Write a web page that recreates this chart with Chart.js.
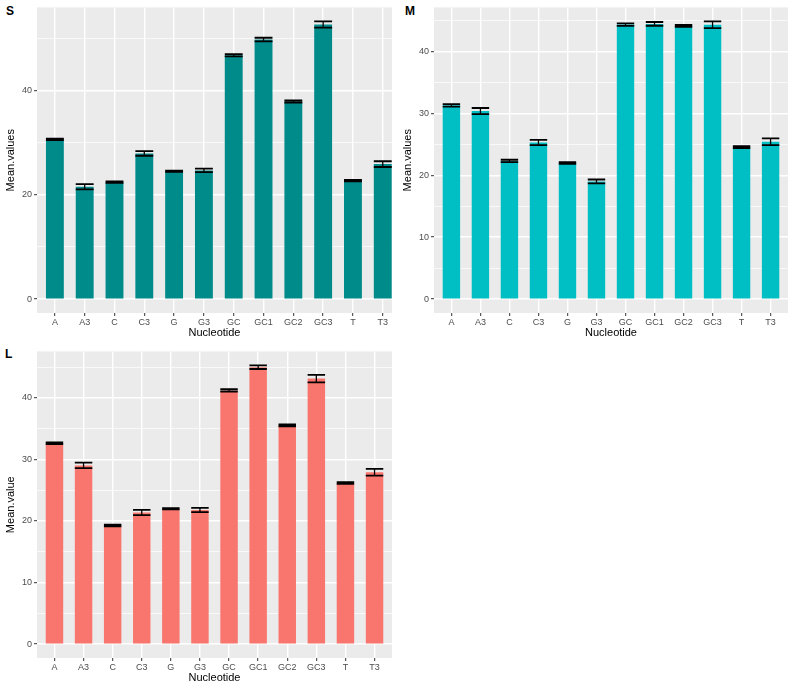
<!DOCTYPE html>
<html>
<head>
<meta charset="utf-8">
<script src="https://cdn.jsdelivr.net/npm/chart.js@4.4.1/dist/chart.umd.min.js"></script>
<style>
  html, body { margin: 0; padding: 0; background: #fff; }
  body { width: 795px; height: 689px; position: relative; overflow: hidden; font-family: "Liberation Sans", Arial, sans-serif; }
  canvas { position: absolute; }
  .tag { position: absolute; font-weight: bold; font-size: 12px; line-height: 1; color: #000; }
</style>
</head>
<body>
<div class="tag" style="left:6px; top:5px;">S</div>
<div class="tag" style="left:405px; top:5px;">M</div>
<div class="tag" style="left:5px; top:348px;">L</div>
<canvas id="chartS" width="393" height="340" style="left:0; top:0;"></canvas>
<canvas id="chartM" width="392" height="340" style="left:397px; top:0;"></canvas>
<canvas id="chartL" width="393" height="341" style="left:0; top:344px;"></canvas>
<script>
const categories = ['A', 'A3', 'C', 'C3', 'G', 'G3', 'GC', 'GC1', 'GC2', 'GC3', 'T', 'T3'];

// S panel
const sMeans = [30.6, 21.5, 22.4, 27.9, 24.5, 24.65, 46.7, 49.7, 37.85, 52.6, 22.7, 25.85];
const sErrors = [0.15, 0.5, 0.15, 0.45, 0.12, 0.35, 0.2, 0.35, 0.2, 0.6, 0.15, 0.55];
const sYTicks = [0, 20, 40];
const sYMinor = [10, 30, 50];
const sYRange = [-2.66, 55.86];

// M panel
const mMeans = [31.28, 30.35, 22.3, 25.28, 21.97, 18.99, 44.32, 44.43, 44.1, 44.3, 24.53, 25.4];
const mErrors = [0.2, 0.5, 0.2, 0.43, 0.15, 0.32, 0.2, 0.3, 0.15, 0.55, 0.15, 0.55];
const mYTicks = [0, 10, 20, 30, 40];
const mYMinor = [5, 15, 25, 35, 45];
const mYRange = [-2.24, 47.09];

// L panel
const lMeans = [32.63, 29.03, 19.26, 21.39, 21.97, 21.79, 41.2, 44.99, 35.54, 43.13, 26.17, 27.93];
const lErrors = [0.15, 0.45, 0.15, 0.43, 0.1, 0.35, 0.2, 0.3, 0.15, 0.6, 0.15, 0.55];
const lYTicks = [0, 10, 20, 30, 40];
const lYMinor = [5, 15, 25, 35, 45];
const lYRange = [-2.26, 47.55];

Chart.defaults.font.family = '"Liberation Sans", Arial, sans-serif';

// grey ggplot panel behind the grid
const panelBg = {
    id: 'panelBg',
    beforeDraw(chart) {
        const { ctx, chartArea: a } = chart;
        ctx.save();
        ctx.fillStyle = '#EBEBEB';
        ctx.fillRect(a.left, a.top, a.right - a.left, a.bottom - a.top);
        ctx.restore();
    }
};

const errorBars = {
    id: 'errorBars',
    afterDatasetsDraw(chart) {
        const ctx = chart.ctx;
        const yScale = chart.scales.y;
        const ds = chart.data.datasets[0];
        ctx.save();
        ctx.strokeStyle = '#000';
        chart.getDatasetMeta(0).data.forEach((bar, i) => {
            const mean = ds.data[i].y;
            const err = ds.errors[i];
            const top = yScale.getPixelForValue(mean + err);
            const bot = yScale.getPixelForValue(mean - err);
            const half = bar.width / 2;
            ctx.lineWidth = 1.3;
            ctx.beginPath();
            ctx.moveTo(bar.x, top);
            ctx.lineTo(bar.x, bot);
            ctx.stroke();
            ctx.lineWidth = 1.8;
            ctx.beginPath();
            ctx.moveTo(bar.x - half, top);
            ctx.lineTo(bar.x + half, top);
            ctx.moveTo(bar.x - half, bot);
            ctx.lineTo(bar.x + half, bot);
            ctx.stroke();
        });
        ctx.restore();
    }
};

function makeChart(id, means, errors, color, yTitle, yTicks, yMinor, yRange, xMax) {
    const ctx = document.getElementById(id).getContext('2d');
    return new Chart(ctx, {
        type: 'bar',
        data: {
            datasets: [{
                data: means.map((v, i) => ({ x: i + 1, y: v })),
                errors: errors,
                backgroundColor: color,
                borderWidth: 0,
                barPercentage: 0.6,
                categoryPercentage: 1
            }]
        },
        options: {
            responsive: false,
            animation: false,
            layout: { padding: { top: 5, right: 1, left: 0, bottom: 0 } },
            plugins: { legend: { display: false }, tooltip: { enabled: false } },
            scales: {
                x: {
                    type: 'linear',
                    min: 0.4,
                    max: xMax,
                    bounds: 'data',
                    offset: false,
                    afterBuildTicks: (s) => { s.ticks = categories.map((c, i) => ({ value: i + 1 })); },
                    afterFit: (s) => { s.height = 27; },
                    ticks: {
                        callback: (v) => categories[v - 1],
                        autoSkip: false,
                        maxRotation: 0,
                        padding: 1,
                        color: '#4D4D4D',
                        font: { size: 9 }
                    },
                    grid: { offset: false, color: '#FFFFFF', lineWidth: 1.4, tickLength: 3, tickColor: '#333333', tickWidth: 1 },
                    border: { display: false },
                    title: { display: true, text: 'Nucleotide', color: '#000', font: { size: 11 }, padding: { top: 0, bottom: 0 } }
                },
                y: {
                    min: yRange[0],
                    max: yRange[1],
                    afterBuildTicks: (s) => {
                        s.ticks = yTicks.concat(yMinor).sort((a, b) => a - b).map(v => ({ value: v }));
                    },
                    afterFit: (s) => { s.width = 37; },
                    ticks: {
                        callback: (v) => yTicks.includes(v) ? String(v) : '',
                        autoSkip: false,
                        padding: 2,
                        color: '#4D4D4D',
                        font: { size: 9 }
                    },
                    grid: {
                        color: '#FFFFFF',
                        lineWidth: (c) => yTicks.includes(c.tick.value) ? 1.4 : 0.7,
                        tickLength: 3,
                        tickColor: (c) => yTicks.includes(c.tick.value) ? '#333333' : 'rgba(0,0,0,0)',
                        tickWidth: 1
                    },
                    border: { display: false },
                    title: { display: true, text: yTitle, color: '#000', font: { size: 11 }, padding: { top: 4, bottom: 0 } }
                }
            }
        },
        plugins: [panelBg, errorBars]
    });
}

makeChart('chartS', sMeans, sErrors, '#008B8B', 'Mean.values', sYTicks, sYMinor, sYRange, 12.31);
makeChart('chartM', mMeans, mErrors, '#00BFC4', 'Mean.values', mYTicks, mYMinor, mYRange, 12.6);
makeChart('chartL', lMeans, lErrors, '#F8766D', 'Mean.value', lYTicks, lYMinor, lYRange, 12.6);
</script>
</body>
</html>
